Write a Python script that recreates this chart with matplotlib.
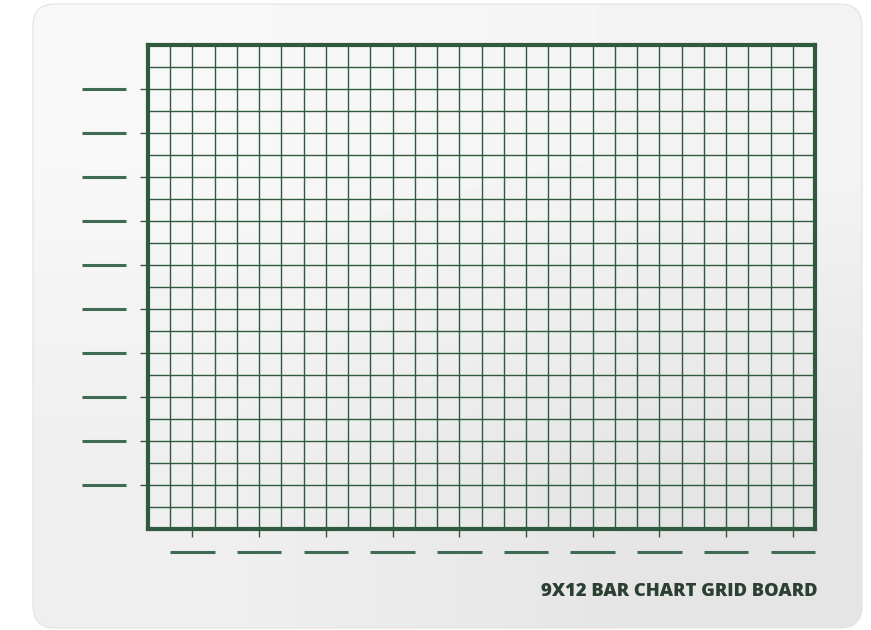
import numpy as np
import matplotlib
matplotlib.use('Agg')
import matplotlib.pyplot as plt
from matplotlib.patches import FancyBboxPatch

# grid board: 30 columns x 22 rows
n_cols = 30
n_rows = 22
x_ticks = [2, 5, 8, 11, 14, 17, 20, 23, 26, 29]
y_ticks = [2, 4, 6, 8, 10, 12, 14, 16, 18, 20]
title = '9X12 BAR CHART GRID BOARD'

W, H = 871, 630
green = '#2f5a3e'
dash_green = '#3f6b55'

fig = plt.figure(figsize=(W / 100, H / 100), dpi=100)
fig.patch.set_facecolor('white')

# board background (pixel coords)
bg = fig.add_axes([0, 0, 1, 1])
bg.set_xlim(0, W)
bg.set_ylim(H, 0)
bg.axis('off')
board = FancyBboxPatch((33, 4), 829, 624, boxstyle='round,pad=0,rounding_size=22',
                       facecolor='none', edgecolor='#e6e2d8', lw=0.8)
bg.add_patch(board)
shade = np.array([[0.97, 0.955], [0.935, 0.895]])
img = bg.imshow(shade, cmap='gray', vmin=0, vmax=1, extent=(33, 862, 628, 4),
                interpolation='bilinear', aspect='auto')
img.set_clip_path(board)

# the grid itself
ax = fig.add_axes([148 / W, 1 - 529 / H, (815 - 148) / W, (529 - 45) / H])
ax.set_facecolor('none')
ax.set_xlim(0, n_cols)
ax.set_ylim(0, n_rows)
ax.set_xticks(x_ticks)
ax.set_yticks(y_ticks)
ax.set_xticks(range(n_cols + 1), minor=True)
ax.set_yticks(range(n_rows + 1), minor=True)
ax.grid(which='both', color=green, lw=1.0)
ax.set_xticklabels([])
ax.set_yticklabels([])
ax.tick_params(which='major', direction='out', length=6, width=1.0, color=green)
ax.tick_params(which='minor', length=0)
for s in ax.spines.values():
    s.set_color(green)
    s.set_linewidth(3)

# blanks for labels
for y in y_ticks:
    ax.plot([-2.97, -0.99], [y, y], color=dash_green, lw=2.2, clip_on=False,
            solid_capstyle='butt')
for x in x_ticks:
    ax.plot([x - 1, x + 1], [-1.05, -1.05], color=dash_green, lw=2.2, clip_on=False,
            solid_capstyle='butt')

fig.text(817 / W, 1 - 596 / H, title, ha='right', va='baseline',
         fontsize=13.2, fontweight='heavy', family='Open Sans', color='#2b3f33')

fig.savefig('out.png', dpi=100)
